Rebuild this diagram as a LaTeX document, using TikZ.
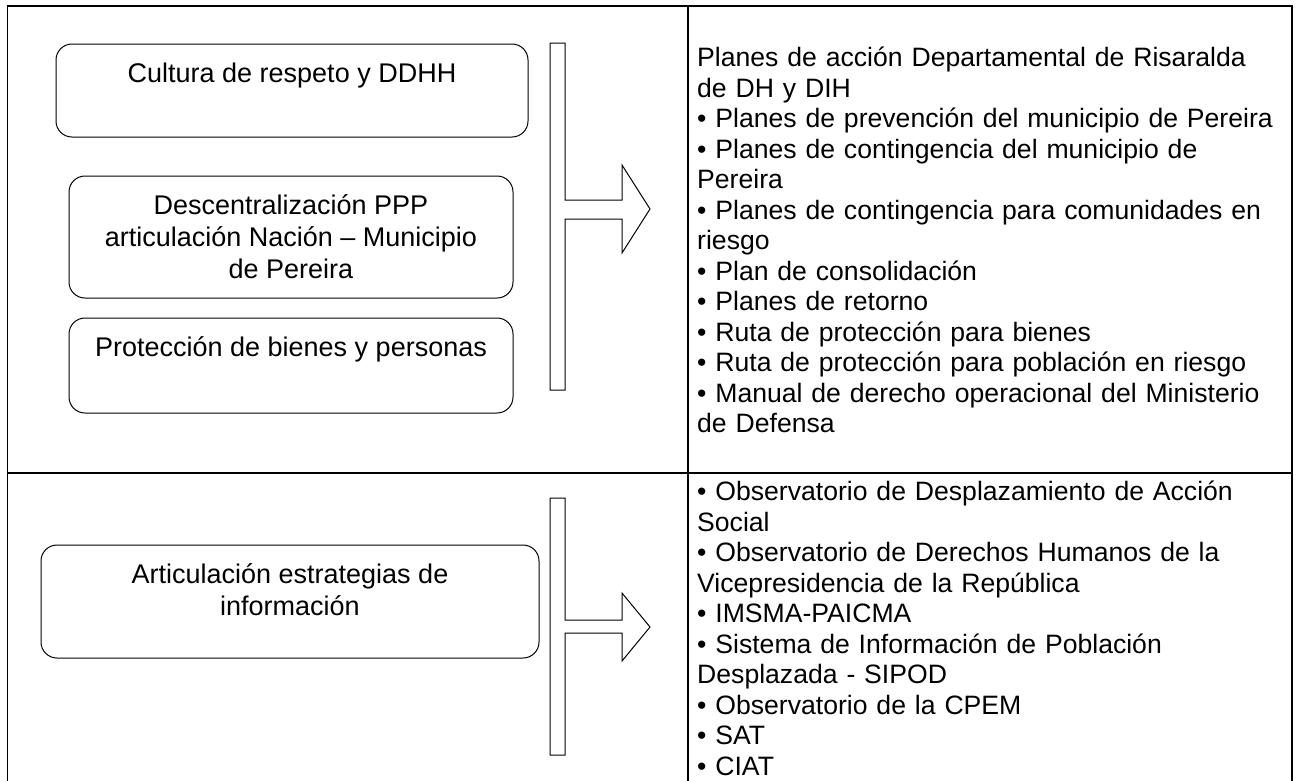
\documentclass[tikz,border=0pt]{standalone}
\usepackage{fontspec}
\setmainfont{Liberation Sans}
\usepackage{xcolor}
\usetikzlibrary{positioning}

\begin{document}
\begin{tikzpicture}[x=1pt,y=-1pt,
  frame/.style={line width=1.6pt},
  optbox/.style={draw, line width=1pt, rounded corners=16pt, inner sep=0pt},
  boxtxt/.style={font=\fontsize{27}{32}\selectfont, align=center, inner sep=0pt},
  listtxt/.style={font=\fontsize{26.6}{30.5}\selectfont, align=left, inner sep=0pt, text width=586pt, anchor=north west},
  bigarrow/.style={draw, line width=1pt, line join=miter}]
\useasboundingbox (0,0) rectangle (1296,780);

% table
\draw[frame] (7.5,782) -- (7.5,6) -- (1292,6) -- (1292,782);
\draw[frame] (7.5,473) -- (1292,473);
\draw[frame] (688,6) -- (688,782);

% left boxes
\node[optbox, minimum width=472pt, minimum height=93pt] (cultura) at (292,90.5) {};
\node[optbox, minimum width=444pt, minimum height=122pt] (descentral) at (291,237) {};
\node[optbox, minimum width=444pt, minimum height=95pt] (proteccion) at (291,365.5) {};
\node[optbox, minimum width=498pt, minimum height=113pt] (articulacion) at (290,601.5) {};

\node[boxtxt, below=19pt of cultura.north] (culturaTxt) {Cultura de respeto y DDHH};
\node[boxtxt, below=19pt of descentral.north] (descentralTxt) {Descentralización PPP\\articulación Nación -- Municipio\\de Pereira};
\node[boxtxt, below=19pt of proteccion.north] (proteccionTxt) {Protección de bienes y personas};
\node[boxtxt, below=19pt of articulacion.north] (articulacionTxt) {Articulación estrategias de\\información};

% arrows
\draw[bigarrow] (550,43) -- (565,43) -- (565,200) -- (622,200) -- (622,165) -- (650,209)
  -- (622,253) -- (622,219) -- (565,219) -- (565,390) -- (550,390) -- cycle;
\draw[bigarrow] (550,498) -- (565,498) -- (565,620) -- (622,620) -- (622,593) -- (650,627)
  -- (622,661) -- (622,633) -- (565,633) -- (565,755) -- (550,755) -- cycle;

% right column
\node[listtxt] (planesList) at (697,47) {Planes de acción Departamental de Risaralda\\
de DH y DIH\\
• Planes de prevención del municipio de Pereira\\
• Planes de contingencia del municipio de\\
Pereira\\
• Planes de contingencia para comunidades en\\
riesgo\\
• Plan de consolidación\\
• Planes de retorno\\
• Ruta de protección para bienes\\
• Ruta de protección para población en riesgo\\
\makebox[\linewidth][s]{• Manual de derecho operacional del Ministerio}\\
de Defensa};

\node[listtxt] (observList) at (697,481) {• Observatorio de Desplazamiento de Acción\\
Social\\
• Observatorio de Derechos Humanos de la\\
Vicepresidencia de la República\\
• IMSMA-PAICMA\\
• Sistema de Información de Población\\
Desplazada - SIPOD\\
• Observatorio de la CPEM\\
• SAT\\
• CIAT};
\end{tikzpicture}
\end{document}
